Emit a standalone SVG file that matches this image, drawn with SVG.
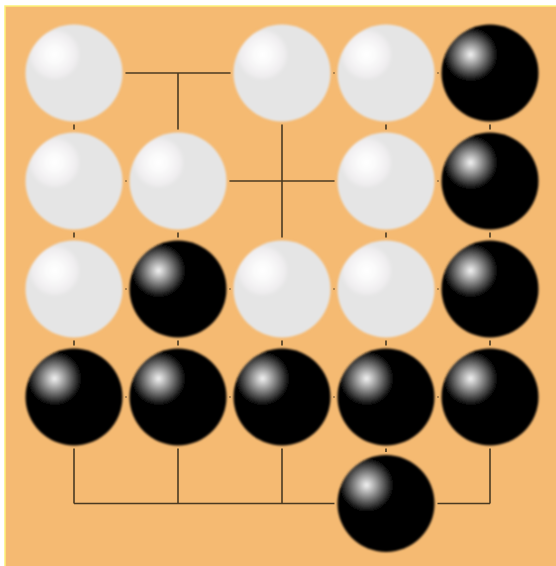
<svg xmlns="http://www.w3.org/2000/svg" width="556" height="566" viewBox="0 0 556 566">
<defs>
<radialGradient id="gw" cx="0.3" cy="0.31" r="0.27" fx="0.3" fy="0.31">
<stop offset="0" stop-color="#ffffff"/>
<stop offset="0.3" stop-color="#fbfbfb"/>
<stop offset="0.8" stop-color="#f0eef0"/>
<stop offset="1" stop-color="#e5e5e5"/>
</radialGradient>
<radialGradient id="gb" cx="0.3" cy="0.31" r="0.28" fx="0.3" fy="0.31">
<stop offset="0" stop-color="#f4f4f4"/>
<stop offset="0.35" stop-color="#a0a0a0"/>
<stop offset="1" stop-color="#000000"/>
</radialGradient>
<filter id="soft" x="-10%" y="-10%" width="120%" height="120%">
<feGaussianBlur stdDeviation="1.3"/>
</filter>
</defs>
<style>
.grid line{stroke:#4a3a22;stroke-width:1.6}
.pad{fill:#f5ba72}
.w{fill:url(#gw);filter:url(#soft)}
.b{fill:url(#gb);filter:url(#soft)}
</style>
<rect x="0" y="0" width="556" height="566" fill="#ffffff"/>
<rect x="5" y="6" width="560" height="570" fill="#f5ba72" stroke="#fbf27a" stroke-width="1.5"/>
<g id="connectors" class="grid">
<line x1="74" y1="73" x2="490" y2="73"/>
<line x1="74" y1="181" x2="490" y2="181"/>
<line x1="74" y1="289" x2="490" y2="289"/>
<line x1="74" y1="397" x2="490" y2="397"/>
<line x1="74" y1="503.5" x2="490" y2="503.5"/>
<line x1="74" y1="73" x2="74" y2="503.5"/>
<line x1="178" y1="73" x2="178" y2="503.5"/>
<line x1="282" y1="73" x2="282" y2="503.5"/>
<line x1="386" y1="73" x2="386" y2="503.5"/>
<line x1="490" y1="73" x2="490" y2="503.5"/>
</g>
<g id="s-0-0"><circle class="pad" cx="74" cy="73" r="51.5"/><circle class="w" cx="74" cy="73" r="48.5"/></g>
<g id="s-2-0"><circle class="pad" cx="282" cy="73" r="51.5"/><circle class="w" cx="282" cy="73" r="48.5"/></g>
<g id="s-3-0"><circle class="pad" cx="386" cy="73" r="51.5"/><circle class="w" cx="386" cy="73" r="48.5"/></g>
<g id="s-4-0"><circle class="pad" cx="490" cy="73" r="51.5"/><circle class="b" cx="490" cy="73" r="48.5"/></g>
<g id="s-0-1"><circle class="pad" cx="74" cy="181" r="51.5"/><circle class="w" cx="74" cy="181" r="48.5"/></g>
<g id="s-1-1"><circle class="pad" cx="178" cy="181" r="51.5"/><circle class="w" cx="178" cy="181" r="48.5"/></g>
<g id="s-3-1"><circle class="pad" cx="386" cy="181" r="51.5"/><circle class="w" cx="386" cy="181" r="48.5"/></g>
<g id="s-4-1"><circle class="pad" cx="490" cy="181" r="51.5"/><circle class="b" cx="490" cy="181" r="48.5"/></g>
<g id="s-0-2"><circle class="pad" cx="74" cy="289" r="51.5"/><circle class="w" cx="74" cy="289" r="48.5"/></g>
<g id="s-1-2"><circle class="pad" cx="178" cy="289" r="51.5"/><circle class="b" cx="178" cy="289" r="48.5"/></g>
<g id="s-2-2"><circle class="pad" cx="282" cy="289" r="51.5"/><circle class="w" cx="282" cy="289" r="48.5"/></g>
<g id="s-3-2"><circle class="pad" cx="386" cy="289" r="51.5"/><circle class="w" cx="386" cy="289" r="48.5"/></g>
<g id="s-4-2"><circle class="pad" cx="490" cy="289" r="51.5"/><circle class="b" cx="490" cy="289" r="48.5"/></g>
<g id="s-0-3"><circle class="pad" cx="74" cy="397" r="51.5"/><circle class="b" cx="74" cy="397" r="48.5"/></g>
<g id="s-1-3"><circle class="pad" cx="178" cy="397" r="51.5"/><circle class="b" cx="178" cy="397" r="48.5"/></g>
<g id="s-2-3"><circle class="pad" cx="282" cy="397" r="51.5"/><circle class="b" cx="282" cy="397" r="48.5"/></g>
<g id="s-3-3"><circle class="pad" cx="386" cy="397" r="51.5"/><circle class="b" cx="386" cy="397" r="48.5"/></g>
<g id="s-4-3"><circle class="pad" cx="490" cy="397" r="51.5"/><circle class="b" cx="490" cy="397" r="48.5"/></g>
<g id="s-3-4"><circle class="pad" cx="386" cy="503.5" r="51.5"/><circle class="b" cx="386" cy="503.5" r="48.5"/></g>
</svg>
